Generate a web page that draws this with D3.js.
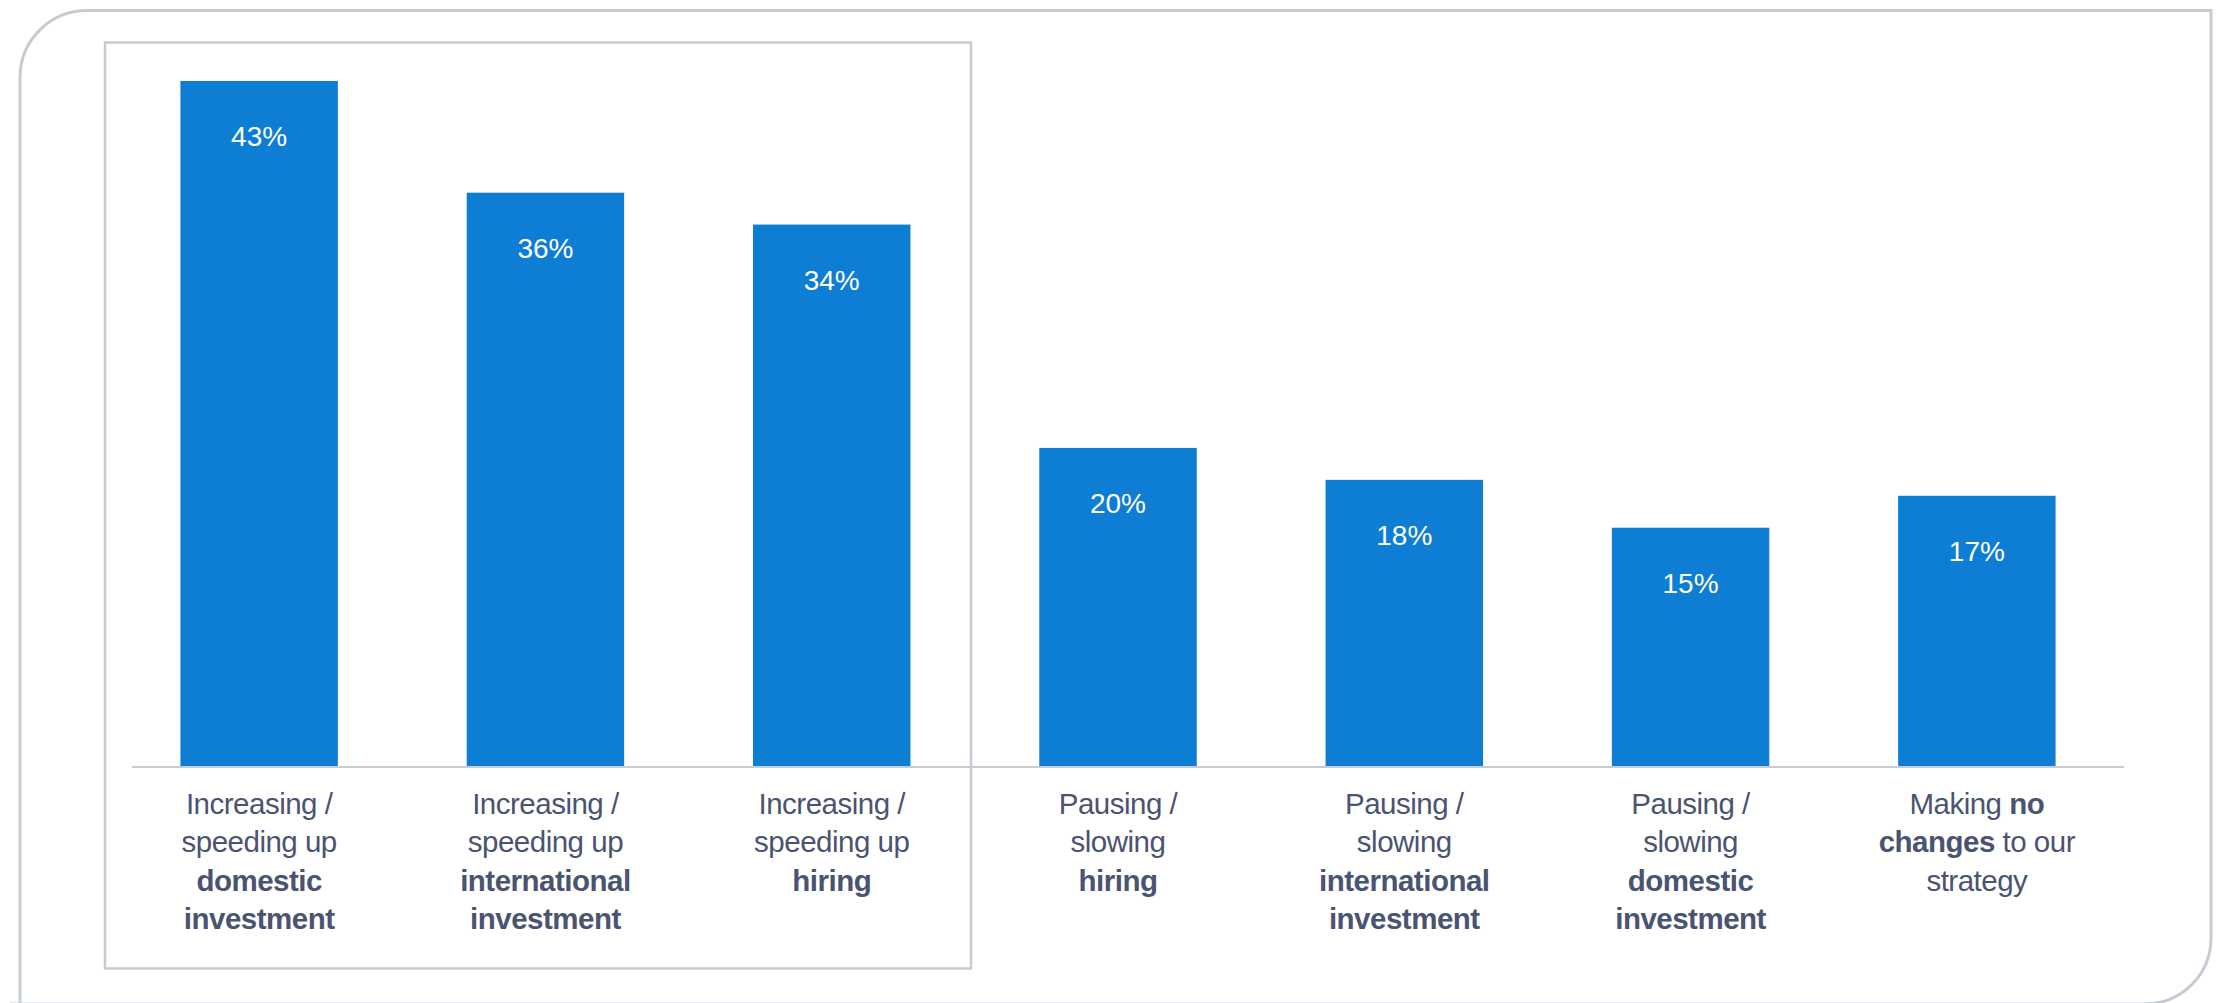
<!DOCTYPE html>
<html>
<head>
<meta charset="utf-8">
<script src="https://cdn.jsdelivr.net/npm/d3@7"></script>
<style>
  html, body { margin: 0; padding: 0; background: #ffffff; }
  svg { display: block; }
</style>
</head>
<body>
<svg id="chart" width="2223" height="1003"></svg>
<script>
// ---- data ----
const categories = [
  "Increasing / speeding up domestic investment",
  "Increasing / speeding up international investment",
  "Increasing / speeding up hiring",
  "Pausing / slowing hiring",
  "Pausing / slowing international investment",
  "Pausing / slowing domestic investment",
  "Making no changes to our strategy"
];
const values = [43, 36, 34, 20, 18, 15, 17];
const valueLabels = ["43%", "36%", "34%", "20%", "18%", "15%", "17%"];
// label lines: each line is a list of [text, bold]
const labelLines = [
  [[["Increasing /", false]], [["speeding up", false]], [["domestic", true]], [["investment", true]]],
  [[["Increasing /", false]], [["speeding up", false]], [["international", true]], [["investment", true]]],
  [[["Increasing /", false]], [["speeding up", false]], [["hiring", true]]],
  [[["Pausing /", false]], [["slowing", false]], [["hiring", true]]],
  [[["Pausing /", false]], [["slowing", false]], [["international", true]], [["investment", true]]],
  [[["Pausing /", false]], [["slowing", false]], [["domestic", true]], [["investment", true]]],
  [[["Making ", false], ["no", true]], [["changes", true], [" to our", false]], [["strategy", false]]]
];

// ---- layout ----
const svg = d3.select("#chart");
const frameColor = "#c6cbd4";
const textColor = "#4a5472";
const barColor = "#0e7dd4";
const font = "'Liberation Sans', Arial, Helvetica, sans-serif";

// outer frame: rounded top-left and bottom-right corners
const L = 20, T = 10.5, R = 2211, B = 1004, r1 = 67, r2 = 66;
svg.append("path")
  .attr("d", `M${L},${B + 20} L${L},${T + r1} A${r1},${r1} 0 0 1 ${L + r1},${T} L${R},${T} L${R},${B - r2} A${r2},${r2} 0 0 1 ${R - r2},${B} L${L - 10},${B}`)
  .attr("fill", "none")
  .attr("stroke", frameColor)
  .attr("stroke-width", 3);

// highlight box around first three categories
svg.append("rect")
  .attr("x", 105).attr("y", 42.5)
  .attr("width", 866).attr("height", 926)
  .attr("fill", "none")
  .attr("stroke", frameColor)
  .attr("stroke-width", 2.5);

const x = d3.scaleBand()
  .domain(categories)
  .range([116, 2120])
  .paddingInner(0.45)
  .paddingOuter(0.225);

const y = d3.scaleLinear()
  .domain([0, 43])
  .range([767, 81]);

// bars
svg.append("g").selectAll("rect")
  .data(categories)
  .join("rect")
  .attr("x", d => x(d))
  .attr("y", (d, i) => y(values[i]))
  .attr("width", x.bandwidth())
  .attr("height", (d, i) => y(0) - y(values[i]))
  .attr("fill", barColor);

// value labels
svg.append("g").selectAll("text")
  .data(categories)
  .join("text")
  .attr("x", d => x(d) + x.bandwidth() / 2)
  .attr("y", (d, i) => y(values[i]) + 65)
  .attr("text-anchor", "middle")
  .attr("font-family", font)
  .attr("font-size", 28)
  .attr("fill", "#ffffff")
  .text((d, i) => valueLabels[i]);

// baseline axis
const axis = d3.axisBottom(x).tickSize(0).tickFormat("");
const ax = svg.append("g").attr("transform", `translate(0,${y(0)})`).call(axis);
ax.select(".domain")
  .attr("d", `M132,0H2124`)
  .attr("stroke", frameColor)
  .attr("stroke-width", 2);

// category labels
const lab = svg.append("g")
  .attr("font-family", font)
  .attr("font-size", 29.5)
  .attr("fill", textColor)
  .attr("text-anchor", "middle");

categories.forEach((c, i) => {
  const cx = x(c) + x.bandwidth() / 2;
  labelLines[i].forEach((line, j) => {
    const t = lab.append("text")
      .attr("x", cx)
      .attr("y", 814 + j * 38.3)
      .attr("letter-spacing", -0.5);
    line.forEach(([txt, bold]) => {
      t.append("tspan")
        .attr("font-weight", bold ? 700 : 400)
        .style("white-space", "pre")
        .text(txt);
    });
  });
});
</script>
</body>
</html>
